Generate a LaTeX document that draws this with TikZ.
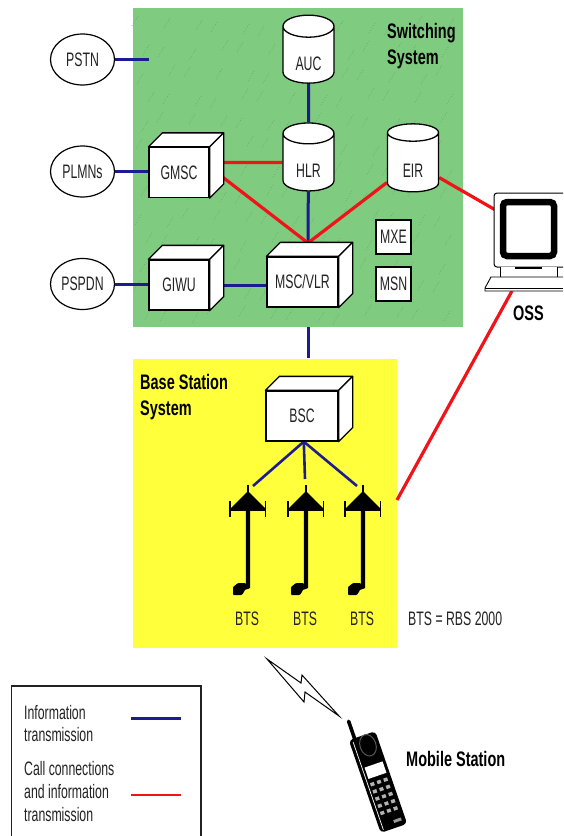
\documentclass[tikz,border=0pt]{standalone}
\usepackage{fontspec}
\setmainfont[FakeStretch=0.63,BoldFeatures={FakeStretch=0.69}]{Liberation Sans}
\usetikzlibrary{backgrounds,shapes.geometric,calc}

\definecolor{switchgreen}{HTML}{7FCB80}
\definecolor{switchfleck}{HTML}{6FA574}
\definecolor{basesun}{HTML}{FFFF3C}
\definecolor{infoblue}{HTML}{1C1C8E}
\definecolor{callred}{HTML}{EE1418}
\definecolor{inkgrey}{HTML}{222222}

\tikzset{
  label15/.style={text=inkgrey,font=\fontsize{19.5}{22.7}\selectfont,inner sep=0pt},
  head18/.style={text=black,font=\fontsize{21}{26}\selectfont\bfseries,inner sep=0pt},
  netoval/.style={draw=black,line width=1.2pt,fill=white,ellipse,minimum width=64pt,minimum height=51pt,inner sep=0pt,label15},
  frontbox/.style={draw=black,line width=1.3pt,fill=white,minimum width=#1,minimum height=50pt,inner sep=0pt,label15},
  facebox/.style={draw=black,line width=1.3pt,fill=white,line join=round},
  dbdrum/.style={draw=black,line width=1.3pt,fill=white,cylinder,shape border rotate=90,aspect=.85,minimum width=51pt,minimum height=68pt,inner sep=0pt,label15,text height=30pt,text depth=0pt},
  smallbox/.style={draw=black,line width=1.3pt,fill=white,minimum width=35pt,minimum height=34pt,inner sep=0pt,label15},
  infoline/.style={draw=infoblue,line width=3pt},
  callline/.style={draw=callred,line width=3.2pt},
}

\newcommand{\boxfaces}[1]{
  \draw[facebox] (#1.north west)--++(14,-14)--++($(#1.north east)-(#1.north west)$)--(#1.north east)--cycle;
  \draw[facebox] (#1.north east)--++(14,-14)--++($(#1.south east)-(#1.north east)$)--(#1.south east)--cycle;
}

\begin{document}
\begin{tikzpicture}[x=1pt,y=-1pt]
\useasboundingbox (0,0) rectangle (563,836);

% outside networks
\node[netoval] (pstn) at (82.5,59.5) {PSTN};
\node[netoval] (plmns) at (82.5,171.5) {PLMNs};
\node[netoval] (pspdn) at (82.5,284) {PSPDN};
\coordinate (pstnend) at (149,59.5);

% switching system
\node[dbdrum] (auc) at (308.5,55) {AUC};
\node[dbdrum] (hlr) at (308.5,162.5) {HLR};
\node[dbdrum] (eir) at (413,162.5) {EIR};
\node[frontbox=60pt] (gmsc) at (179,172.5) {GMSC};
\node[frontbox=60pt] (giwu) at (179,285) {GIWU};
\node[frontbox=71pt] (msc) at (302.5,282) {MSC/VLR};
\boxfaces{gmsc}
\boxfaces{giwu}
\boxfaces{msc}
\node[smallbox] (mxe) at (393.5,237) {MXE};
\node[smallbox] (msn) at (393.5,284) {MSN};
\node[head18,align=left,anchor=west] (swtitle) at (387,46) {Switching\\System};
\coordinate (msctop) at (308,243);

% base station system
\node[frontbox=72pt] (bsc) at (302,416) {BSC};
\boxfaces{bsc}
\node[head18,align=left,anchor=west] (bstitle) at (140,397) {Base Station\\System};
\foreach \n/\x in {a/247,b/305,c/362}{
  \node[label15] (bts\n) at (\x,619) {BTS};
  \fill (\x+.4,485) rectangle (\x+1.6,494);
  \fill (\x+1,491)--(\x+19,509)--(\x-17,509)--cycle;
  \draw[line width=1.5pt] (\x-17,501)--(\x-17,517) (\x+18.5,501)--(\x+18.5,517) (\x-17,510)--(\x+18.5,510);
  \draw[line width=4.4pt] (\x+1,505)--(\x+1,586.5)--(\x-6,589);
  \fill[rounded corners=1pt] (\x-14,587)--(\x-9,583)--(\x-1,583)--(\x-2,590)--(\x-5,595)--(\x-14,595)--cycle;
}
\coordinate (bscfeeda) at (253,486);
\coordinate (bscfeedb) at (305,479);
\coordinate (bscfeedc) at (357,486);
\coordinate (panelgap) at (308,327);
\coordinate (panelgapend) at (308,358);
\node[label15,anchor=west] (rbsnote) at (408,619) {BTS = RBS 2000};

% oss
\draw[line width=1pt,rounded corners=3pt,fill=white] (563,193)--(494,193)--(494,267)--(563,267);
\node[draw=black,line width=6.5pt,rounded corners=4pt,fill=white,minimum width=51pt,minimum height=54pt,inner sep=0pt] (oss) at (528.5,229) {};
\draw[line width=.9pt,fill=white] (500,267)--(500,277)--(557,277)--(557,267);
\draw[line width=1.4pt] (515,268)--(542,268);
\draw[line width=.9pt,fill=white] (563,277)--(491,277)--(485,288)--(485,291)--(563,291);
\draw[line width=.9pt] (485,288)--(563,288);
\node[head18] (osslabel) at (528.5,313) {OSS};
\coordinate (ossfoot) at (512,291);
\coordinate (baseedge) at (397,500);

% radio link and mobile
\coordinate (bolttip) at (339,716);
\draw[line width=1pt,fill=white] (267,659)--(301,683)--(302,675)--(bolttip)--(305,692)--(304,702)--cycle;
\begin{scope}[shift={(378,782)},rotate=19]
  \draw[line width=3.6pt,line cap=round] (-8,-48)--(-8,-67);
  \fill[rounded corners=4pt] (-14,-49) rectangle (14,49);
  \draw[white,line width=.7pt] (-10.5,-46)--(-10.5,47);
  \draw[white!35!black,line width=1pt] (2.5,-38) ellipse (8 and 11);
  \fill[white] (-8,-18) rectangle (11,-6);
  \foreach \r in {0,...,4}{
    \foreach \c in {-6,1,8}{
      \fill[white!70!black] (\c-2,\r*7.6-1.5) rectangle (\c+2,\r*7.6+2);
    }
  }
  \fill[white!60!black] (2,41) rectangle (10,44);
\end{scope}
\node[head18,anchor=west] (mobilelabel) at (406,759) {Mobile Station};

% legend
\draw[draw=inkgrey,line width=1.2pt] (11.5,836)--(11.5,686)--(201,686)--(201,836);
\node[label15,align=left,anchor=west] (infotext) at (24,723.5) {Information\\transmission};
\node[label15,align=left,anchor=west] (calltext) at (24,791.5) {Call connections\\and information\\transmission};
\coordinate (infoa) at (131,718);
\coordinate (infob) at (181,718);
\coordinate (calla) at (131,795);
\coordinate (callb) at (181,795);

\begin{scope}[on background layer]
  \fill[switchgreen] (133,8) rectangle (463,327);
  \foreach \i in {0,...,12}{
    \foreach \j in {0,...,12}{
      \pgfmathsetmacro{\fx}{138+\i*25+mod(\j*11+\i*7,17)}
      \pgfmathsetmacro{\fy}{16+\j*24+mod(\i*13+\j*5,11)}
      \draw[switchfleck,line width=.7pt,dotted] (\fx,\fy)--++(-6,10);
    }
  }
  \fill[basesun] (133,359) rectangle (397,648);
  \draw[infoline] (pstn)--(pstnend);
  \draw[infoline] (plmns)--(plmns-|gmsc);
  \draw[infoline] (pspdn)--(pspdn-|giwu);
  \draw[infoline] (giwu)--(giwu-|msc);
  \draw[infoline] (auc)--(hlr);
  \draw[infoline] (hlr)--(msctop);
  \draw[infoline] (panelgap)--(panelgapend);
  \draw[callline] (gmsc|-hlr)--(hlr);
  \draw[callline] (gmsc.10)--(msctop);
  \draw[callline] (eir)--(msctop);
  \draw[callline] (eir)--(oss);
  \draw[callline] (ossfoot)--(baseedge);
  \draw[infoline,line width=2.6pt] (bsc.-86)--(bscfeeda);
  \draw[infoline,line width=2.6pt] (bsc.-86)--(bscfeedb);
  \draw[infoline,line width=2.6pt] (bsc.-86)--(bscfeedc);
  \draw[infoline] (infoa)--(infob);
  \draw[callline,line width=2.8pt] (calla)--(callb);
\end{scope}
\end{tikzpicture}
\end{document}
